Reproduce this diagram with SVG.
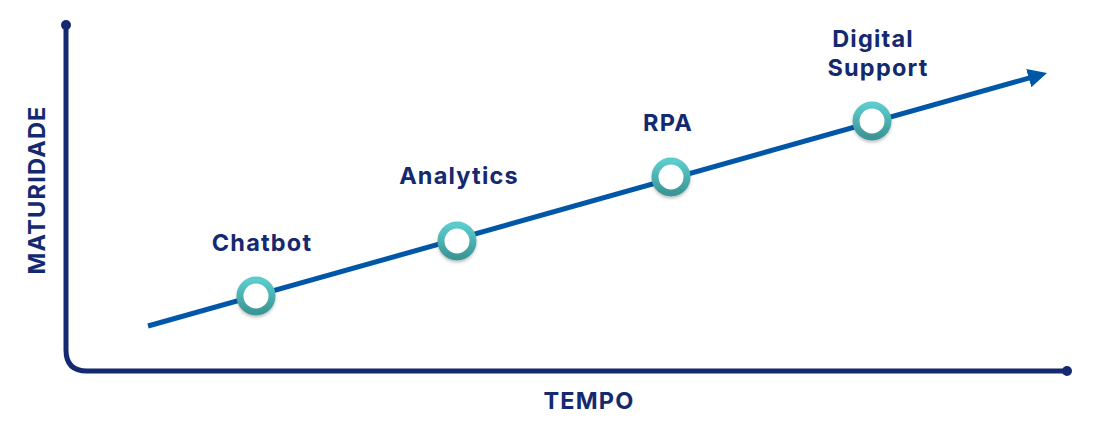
<svg xmlns="http://www.w3.org/2000/svg" width="1110" height="430" viewBox="0 0 1110 430">
<style>
.axis{fill:none;stroke:#14296f;stroke-width:5;stroke-linecap:round}
.lbl{font-family:Inter,"Noto Sans",sans-serif;font-weight:700;font-size:23.5px;letter-spacing:1.2px;fill:#14296f;text-anchor:middle}
.ring{fill:#fff;stroke:url(#tg);stroke-width:7;filter:url(#sh)}
</style>
<defs>
<linearGradient id="tg" x1="0" y1="0" x2="0" y2="1">
<stop offset="0" stop-color="#5ccccc"/>
<stop offset="1" stop-color="#3c9696"/>
</linearGradient>
<filter id="sh" x="-50%" y="-50%" width="200%" height="200%">
<feDropShadow dx="0" dy="2" stdDeviation="1.5" flood-color="#000" flood-opacity="0.25"/>
</filter>
<marker id="ah" markerWidth="5" markerHeight="5" refX="1.8" refY="1.9" orient="auto" markerUnits="strokeWidth">
<path d="M0,0 L3.8,1.9 L0,3.8 z" fill="#0057a8"/>
</marker>
</defs>
<g id="axes">
<path class="axis" d="M66,25 V350 Q66,371 87,371 H1067"/>
<circle cx="66" cy="25" r="5" fill="#14296f"/>
<circle cx="1067" cy="371" r="5" fill="#14296f"/>
<text class="lbl" x="589" y="409">TEMPO</text>
<text class="lbl" transform="translate(45,190) rotate(-90)" x="0" y="0">MATURIDADE</text>
</g>
<g id="connectors">
<line x1="148" y1="326" x2="1037.4" y2="75.7" stroke="#0057a8" stroke-width="5" marker-end="url(#ah)"/>
</g>
<g id="chatbot">
<circle class="ring" cx="256" cy="296" r="16"/>
<text class="lbl" x="262" y="251">Chatbot</text>
</g>
<g id="analytics">
<circle class="ring" cx="457" cy="241" r="16"/>
<text class="lbl" x="459" y="184">Analytics</text>
</g>
<g id="rpa">
<circle class="ring" cx="671" cy="177" r="16"/>
<text class="lbl" x="668" y="131">RPA</text>
</g>
<g id="digital-support">
<circle class="ring" cx="872" cy="121" r="16"/>
<text class="lbl" x="873" y="47">Digital</text>
<text class="lbl" x="878" y="76">Support</text>
</g>
</svg>
